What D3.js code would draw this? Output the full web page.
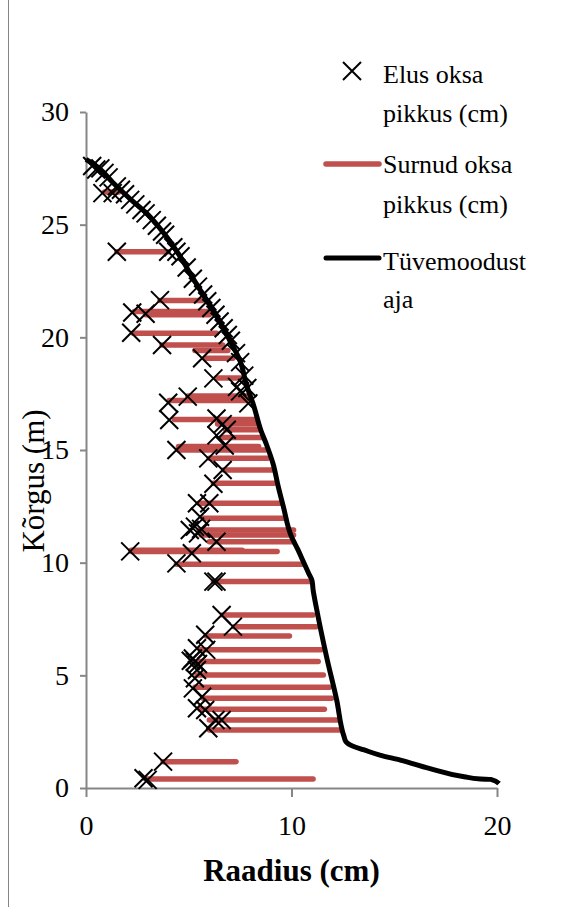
<!DOCTYPE html>
<html><head><meta charset="utf-8">
<script src="https://cdn.jsdelivr.net/npm/d3@7"></script>
<style>body{margin:0;background:#fff}svg{display:block}</style>
</head><body>
<script>
// ---- data ----
const xTicks = [0, 10, 20];
const yTicks = [0, 5, 10, 15, 20, 25, 30];

// live branches (Elus oksa pikkus): length (x) and height (y)
const liveLength = [0.3,0.5,0.7,0.9,1.1,1.5,1.7,1.9,2.15,2.4,2.7,2.9,3.2,3.45,3.7,3.85,4.25,4.4,4.6,4.9,5.2,5.45,5.7,5.9,6.1,6.3,6.5,6.7,6.9,7.05,7.3,7.5,7.7,7.85,
  0.8,1.3,1.5,4.0,3.6,2.25,2.9,2.2,3.7,5.65,6.2,7.35,7.5,7.9,4.95,4.0,4.05,6.35,6.65,6.85,6.35,6.75,4.4,5.95,6.65,6.2,5.4,6.0,5.55,5.05,5.3,5.45,5.6,6.35,2.15,5.15,4.4,6.2,6.35,
  6.6,7.15,5.8,5.4,5.85,5.2,5.3,5.1,5.45,5.4,5.3,5.2,5.65,5.4,5.8,6.3,6.6,5.95,3.75,2.8,3.0];
const liveHeight = [27.6,27.45,27.5,27.3,27.1,26.7,26.55,26.35,26.1,25.9,25.65,25.5,25.2,24.95,24.7,24.55,24.0,23.8,23.6,23.1,22.6,22.25,21.9,21.6,21.3,21.0,20.7,20.4,20.1,19.85,19.3,18.9,18.3,17.75,
  26.4,26.4,23.8,23.8,21.65,21.1,21.05,20.2,19.66,19.07,18.18,17.8,17.6,17.07,17.37,17.1,16.33,16.4,16.15,15.9,15.65,15.2,15.0,14.63,14.11,13.5,12.64,12.64,12.04,11.45,11.6,11.3,11.5,10.93,10.5,10.42,9.97,9.16,9.16,
  7.68,7.16,6.8,6.2,6.13,5.75,5.6,5.65,5.5,5.24,4.87,4.42,4.05,3.54,3.46,3.02,3.02,2.65,1.17,0.43,0.36];

// dead branches (Surnud oksa pikkus): height, start and end of each segment
const deadHeight = [26.45,23.8,21.63,21.15,21.0,20.18,19.66,19.42,19.07,18.2,17.4,17.2,16.35,16.15,15.9,15.55,15.15,15.0,14.63,14.11,13.52,12.64,11.97,11.45,11.23,10.93,10.55,10.5,9.93,9.16,7.68,7.16,6.75,6.13,5.61,5.02,4.47,3.98,3.49,3.02,2.57,1.17,0.4];
const deadStart  = [0.9,1.5,3.6,2.35,2.9,2.3,3.7,5.3,5.8,6.35,4.95,4.05,4.3,6.4,6.8,6.6,4.5,4.5,6.0,6.7,6.2,5.5,5.7,5.5,5.6,6.0,2.2,2.2,4.4,6.2,6.65,7.2,5.85,5.55,5.4,5.4,5.3,5.7,5.55,6.0,6.0,3.75,2.9];
const deadEnd    = [1.6,4.0,5.65,6.1,6.0,6.35,6.65,6.9,7.15,7.5,7.9,7.85,8.2,8.3,8.4,8.55,8.4,8.75,8.85,9.05,9.15,9.45,9.7,10.1,10.1,10.1,7.6,9.3,10.5,10.9,11.05,11.2,9.9,11.45,11.3,11.55,11.85,11.95,11.6,12.3,12.35,7.3,11.05];

// stem profile (Tüvemoodustaja)
const stemRadius = [0,0.5,1.33,2.2,2.95,3.5,3.93,4.57,5.22,5.7,6.2,6.6,7.0,7.5,7.82,8.15,8.5,8.8,9.1,9.35,9.6,10.0,10.3,10.6,10.85,11.0,11.05,11.2,11.7,12.2,12.55,12.65,13.0,13.5,14.3,15.3,16.7,18.4,19.2,19.7,20.1];
const stemHeight = [27.9,27.6,26.85,26.1,25.5,24.95,24.45,23.6,22.6,21.9,21.2,20.55,19.85,18.95,17.85,17.0,15.9,15.2,14.4,13.4,12.5,11.15,10.6,10.0,9.5,9.2,8.8,8.05,5.85,3.9,2.3,2.05,1.85,1.7,1.46,1.24,0.87,0.5,0.4,0.38,0.2];

const legendLabels = [["Elus oksa","pikkus (cm)"],["Surnud oksa","pikkus (cm)"],["Tüvemoodust","aja"]];

// ---- drawing ----
const W = 584, H = 907;
const font = "'Liberation Serif','Times New Roman',serif";
const axisColor = "#868686";
const red = "#C0504D";
const svg = d3.select("body").append("svg").attr("width", W).attr("height", H);
svg.append("rect").attr("width", W).attr("height", H).attr("fill", "#fff");
svg.append("line").attr("x1", 8.5).attr("x2", 8.5).attr("y1", 0).attr("y2", H).attr("stroke", axisColor).attr("stroke-width", 1);

const x = d3.scaleLinear().domain([0, 20]).range([86, 497]);
const y = d3.scaleLinear().domain([0, 30]).range([788, 112]);

const gy = svg.append("g").attr("transform", `translate(${x(0)},0)`)
  .call(d3.axisLeft(y).tickValues(yTicks).tickSize(6).tickSizeOuter(0).tickPadding(11));
const gx = svg.append("g").attr("transform", `translate(0,${y(0)})`)
  .call(d3.axisBottom(x).tickValues(xTicks).tickSize(9).tickSizeOuter(0));
[gx, gy].forEach(g => {
  g.select(".domain").attr("stroke", axisColor).attr("stroke-width", 2);
  g.selectAll(".tick line").attr("stroke", axisColor).attr("stroke-width", 2);
  g.selectAll(".tick text").attr("fill", "#000").style("font-family", font).style("font-size", "28px");
});
gx.selectAll(".tick text").attr("y", 47).attr("dy", null);

// dead branches
svg.append("g").selectAll("line").data(deadHeight).join("line")
  .attr("x1", (d, i) => x(deadStart[i])).attr("x2", (d, i) => x(deadEnd[i]))
  .attr("y1", d => y(d)).attr("y2", d => y(d))
  .attr("stroke", red).attr("stroke-width", 5.5).attr("stroke-linecap", "round");

// live branch markers
const xm = 9;
svg.append("g").selectAll("path").data(liveHeight).join("path")
  .attr("transform", (d, i) => `translate(${x(liveLength[i])},${y(d)})`)
  .attr("d", `M${-xm},${-xm}L${xm},${xm}M${-xm},${xm}L${xm},${-xm}`)
  .attr("stroke", "#000").attr("stroke-width", 2).attr("fill", "none");

// stem
const line = d3.line().x((d, i) => x(stemRadius[i])).y(d => y(d)).curve(d3.curveMonotoneY);
svg.append("path").datum(stemHeight).attr("d", line)
  .attr("fill", "none").attr("stroke", "#000").attr("stroke-width", 5).attr("stroke-linejoin", "round");

// axis titles
svg.append("text").attr("x", x(10)).attr("y", 881).attr("text-anchor", "middle")
  .style("font-family", font).style("font-size", "31px").style("font-weight", "bold").text("Raadius (cm)");
svg.append("text").attr("transform", "translate(44,481) rotate(-90)").attr("text-anchor", "middle")
  .style("font-family", font).style("font-size", "31px").text("Kõrgus (m)");

// legend
const lg = svg.append("g");
const markY = [71, 164, 258];
const textY = [[83, 122], [173, 213], [270, 308]];
lg.append("path").attr("transform", `translate(352,${markY[0]})`)
  .attr("d", "M-9,-9L9,9M-9,9L9,-9").attr("stroke", "#000").attr("stroke-width", 2);
lg.append("line").attr("x1", 326).attr("x2", 379).attr("y1", markY[1]).attr("y2", markY[1])
  .attr("stroke", red).attr("stroke-width", 5.5).attr("stroke-linecap", "round");
lg.append("line").attr("x1", 326).attr("x2", 379).attr("y1", markY[2]).attr("y2", markY[2])
  .attr("stroke", "#000").attr("stroke-width", 5).attr("stroke-linecap", "round");
legendLabels.forEach((lab, k) => {
  lab.forEach((t, j) => {
    lg.append("text").attr("x", 383).attr("y", textY[k][j])
      .style("font-family", font).style("font-size", "26px").text(t);
  });
});
</script>
</body></html>
